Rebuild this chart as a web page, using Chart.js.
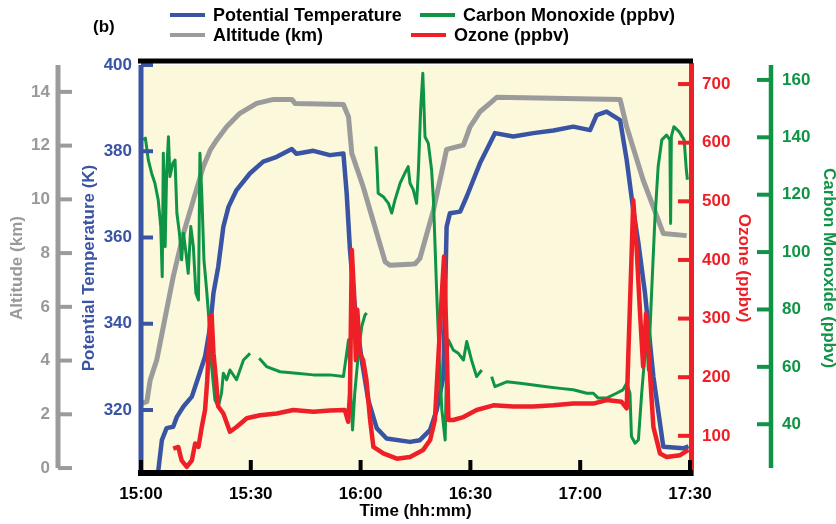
<!DOCTYPE html>
<html lang="en">
<head>
<meta charset="UTF-8">
<title>Flight profile (b)</title>
<script src="https://cdn.jsdelivr.net/npm/chart.js"></script>
<style>
  body { margin: 0; background: #fff; }
  #wrap { position: relative; width: 836px; height: 524px; font-family: "Liberation Sans", Arial, Helvetica, sans-serif; }
  #panel { position: absolute; left: 93px; top: 17px; font-size: 17px; font-weight: bold; line-height: 20px; }
  .key { position: absolute; height: 20px; line-height: 20px; font-size: 18px; font-weight: bold; color: #000; white-space: nowrap; }
  .key .swatch { position: absolute; left: 0; top: 8px; width: 35px; height: 4px; }
  .key .text { position: absolute; left: 43px; top: 0; }
</style>
</head>
<body>
<div id="wrap">
  <canvas id="chart" width="836" height="524"></canvas>
  <div id="panel">(b)</div>
  <div id="legend"></div>
</div>
<script>
// time axis, minutes after 15:00
const xTickValues = [0, 30, 60, 90, 120, 150];
const xTickLabels = ['15:00', '15:30', '16:00', '16:30', '17:00', '17:30'];
const altTicks = [0, 2, 4, 6, 8, 10, 12, 14];
const ptTicks = [320, 340, 360, 380, 400];
const o3Ticks = [100, 200, 300, 400, 500, 600, 700];
const coTicks = [40, 60, 80, 100, 120, 140, 160];

// Altitude (km)
const altTime = [
  0.2, 1.6, 2.5, 3.4, 4.3, 6.1, 8.8, 11.6, 14.3, 17.0,
  18.9, 20.7, 23.4, 27.0, 31.6, 36.2, 41.2, 42.1, 55.3, 56.7,
  57.6, 60.7, 63.9, 66.7, 68.0, 73.5, 74.9, 76.2, 79.9, 83.5,
  88.1, 89.9, 92.6, 95.8, 97.2, 130.9, 132.7, 137.2, 142.7, 149.1
];
const altKm = [
  2.41, 2.47, 3.27, 3.65, 4.02, 5.26, 7.12, 8.73, 9.97, 11.21,
  11.83, 12.21, 12.70, 13.20, 13.57, 13.72, 13.72, 13.57, 13.53, 13.07,
  11.71, 10.47, 8.98, 7.68, 7.55, 7.58, 7.60, 7.80, 9.60, 11.86,
  12.02, 12.70, 13.26, 13.63, 13.80, 13.72, 12.70, 10.72, 8.73, 8.65
];

// Potential Temperature (K)
const ptTime = [
  4.6, 5.7, 7.0, 8.8, 9.8, 11.6, 13.9, 15.7, 17.5, 18.9,
  19.8, 21.1, 22.5, 23.9, 26.1, 29.8, 33.4, 37.1, 41.2, 42.5,
  47.1, 51.6, 55.3, 56.2, 57.1, 58.5, 60.3, 62.1, 64.4, 67.1,
  73.5, 76.2, 79.0, 80.8, 82.6, 83.5, 84.4, 87.2, 89.0, 92.6,
  94.9, 96.7, 101.7, 107.2, 112.7, 118.1, 122.7, 124.5, 127.2, 130.9,
  132.7, 134.5, 135.9, 137.7, 140.0, 142.7, 148.2, 149.6
];
const ptK = [
  305.0, 313.0, 315.8, 316.1, 318.4, 320.8, 323.1, 327.7, 332.4, 339.3,
  347.1, 353.2, 362.5, 367.1, 371.0, 374.9, 377.6, 378.7, 380.5, 379.4,
  380.1, 379.1, 379.5, 370.2, 357.1, 343.2, 331.6, 322.3, 315.8, 313.4,
  312.6, 313.0, 315.4, 320.0, 327.7, 362.5, 365.6, 366.0, 369.5, 377.2,
  381.1, 384.2, 383.4, 384.2, 384.8, 385.7, 384.9, 388.4, 389.2, 387.2,
  378.0, 366.4, 358.7, 347.1, 327.7, 311.5, 311.1, 311.6
];

// Ozone (ppbv)
const o3Time = [
  8.8, 10.2, 11.1, 12.5, 13.9, 14.8, 15.7, 16.6, 17.5, 18.1,
  18.9, 19.3, 19.8, 20.5, 21.1, 22.5, 24.3, 26.1, 28.9, 32.5,
  37.1, 41.6, 47.1, 51.6, 55.7, 56.6, 57.1, 57.6, 58.2, 58.7,
  59.1, 59.8, 60.7, 61.6, 62.6, 63.5, 66.2, 69.9, 73.5, 77.1,
  79.0, 80.3, 81.2, 82.2, 82.8, 83.5, 84.0, 85.3, 88.1, 91.7,
  96.3, 101.7, 107.2, 112.7, 118.1, 123.6, 127.2, 131.3, 132.7, 133.1,
  134.0, 134.5, 135.4, 136.3, 137.2, 138.0, 138.6, 140.0, 141.8, 143.6,
  147.3, 149.6
];
const o3Ppbv = [
  78, 81, 58, 47, 58, 87, 81, 115, 144, 195,
  303, 306, 241, 195, 150, 138, 107, 115, 130, 135,
  138, 144, 141, 143, 144, 124, 172, 417, 343, 229,
  315, 241, 229, 195, 127, 81, 70, 61, 64, 76,
  93, 127, 229, 343, 406, 258, 127, 127, 132, 144,
  152, 150, 150, 152, 155, 155, 161, 158, 147, 229,
  400, 502, 423, 315, 218, 309, 252, 115, 70, 64,
  67, 76
];

// Carbon Monoxide (ppbv), null = no data
const coTime = [
  0.6, 1.2, 2.0, 2.9, 3.8, 4.7, 5.4, 5.8, 6.1, 6.6,
  7.0, 7.5, 7.9, 8.7, 9.3, 9.8, 10.5, 11.1, 11.6, 12.3,
  12.9, 13.6, 14.3, 15.0, 15.7, 16.1, 16.6, 17.2, 18.0, 18.7,
  19.3, 20.2, 21.1, 22.0, 22.5, 23.4, 24.3, 26.1, 28.0, 29.8,
  31.0, 32.3, 34.3, 38.0, 42.5, 47.1, 51.6, 55.3, 56.7, 57.3,
  57.8, 58.4, 59.4, 60.3, 61.2, 61.7, 63.0, 64.2, 64.5, 64.8,
  66.2, 67.6, 68.5, 69.4, 70.8, 72.1, 73.0, 73.5, 74.4, 75.3,
  75.8, 76.4, 77.0, 77.6, 78.5, 79.4, 79.9, 80.8, 81.5, 82.2,
  83.1, 83.5, 84.0, 85.3, 86.7, 88.1, 89.0, 90.3, 91.7, 93.1,
  94.5, 95.8, 96.7, 99.9, 103.6, 107.2, 110.8, 114.5, 118.1, 121.8,
  123.6, 124.9, 127.2, 129.9, 131.7, 132.7, 133.6, 134.0, 135.0, 135.9,
  136.8, 137.7, 138.2, 138.6, 139.5, 140.4, 141.3, 142.3, 143.6, 144.5,
  144.7, 144.9, 145.6, 147.0, 148.4, 149.0, 149.3
];
const coPpbv = [
  139.1, 139.7, 132.1, 127.5, 124.0, 118.2, 108.9, 91.4, 134.4, 101.9,
  127.5, 140.2, 126.3, 131.0, 132.1, 113.6, 106.6, 97.3, 106.6, 99.6,
  92.6, 108.9, 101.9, 85.7, 83.3, 134.4, 120.5, 97.3, 85.7, 74.0,
  60.1, 48.5, 46.1, 50.8, 57.8, 55.5, 58.9, 55.5, 62.4, 64.7,
  null, 63.0, 60.1, 58.3, 57.8, 57.2, 57.2, 56.6, 69.4, 50.8,
  38.0, 50.8, 64.7, 74.0, 78.1, 78.7, null, 136.8, 129.8, 120.5,
  119.3, 117.0, 113.6, 118.2, 124.0, 127.5, 129.8, 124.0, 121.7, 117.0,
  128.6, 149.5, 162.3, 140.2, 137.9, 128.6, 118.2, 85.7, 62.4, 45.0,
  34.5, 62.4, 69.4, 65.9, 64.7, 62.4, 68.8, 62.4, 56.6, 58.9,
  null, 56.6, 53.1, 54.8, 54.3, 53.7, 53.1, 52.5, 52.0, 50.8,
  50.8, 49.1, 49.1, 50.8, 52.0, 54.3, 50.8, 35.7, 33.4, 34.5,
  50.8, 64.7, 71.7, 58.9, 85.7, 111.2, 129.8, 139.1, 140.8, 139.1,
  110.0, 140.2, 143.7, 142.0, 139.1, 128.6, 125.2
];

const BLUE = '#3a54a4';
const GRAY = '#9b9b9b';
const GREEN = '#0f9446';
const RED = '#ee1f26';
const plotBg = '#fbf8dc';
const FONT = '"Liberation Sans", Arial, Helvetica, sans-serif';

Chart.defaults.font.family = FONT;

const pts = (ts, vs) => ts.map((t, i) => ({ x: t, y: vs[i] }));

// legend slots (pixel placement of the custom legend)
const legendSlots = {
  pt: { left: 170, top: 5 },
  co: { left: 420, top: 5 },
  alt: { left: 170, top: 25 },
  o3: { left: 411, top: 25 }
};

function setTicks(values) {
  return scale => { scale.ticks = values.map(v => ({ value: v })); };
}

function yAxis(opts) {
  return {
    type: 'linear',
    position: opts.position,
    weight: opts.weight,
    min: opts.min,
    max: opts.max,
    afterBuildTicks: setTicks(opts.ticks),
    afterFit: scale => { scale.width = opts.width; },
    grid: { display: false, drawTicks: false },
    border: { display: false },
    ticks: {
      color: opts.color,
      padding: opts.tickPad,
      font: { size: 17, weight: 'bold' }
    },
    title: {
      display: true,
      text: opts.title,
      color: opts.color,
      padding: { top: opts.titlePad, bottom: 0 },
      font: { size: 17, weight: 'bold' }
    }
  };
}

// axis lines, inward ticks and the black frame
const frame = {
  id: 'frame',
  beforeDatasetsDraw(chart) {
    const { ctx, chartArea: a } = chart;
    ctx.save();
    ctx.fillStyle = plotBg;
    ctx.fillRect(a.left, a.top, a.right - a.left, a.bottom - a.top);
    ctx.restore();
  },
  afterDatasetsDraw(chart) {
    const { ctx, chartArea: a, scales } = chart;
    const seg = (x1, y1, x2, y2, color, w) => {
      ctx.beginPath();
      ctx.strokeStyle = color;
      ctx.lineWidth = w;
      ctx.moveTo(x1, y1);
      ctx.lineTo(x2, y2);
      ctx.stroke();
    };
    ctx.save();
    ctx.lineCap = 'butt';

    const alt = scales.yAlt;
    const ax = alt.right - 14;
    seg(ax, alt.getPixelForValue(15), ax, alt.getPixelForValue(0), GRAY, 5);
    alt.ticks.forEach(t => {
      const y = alt.getPixelForValue(t.value);
      seg(ax, y, alt.right, y, GRAY, 4);
    });

    const pt = scales.yPT;
    seg(a.left, a.top, a.left, a.bottom + 5, BLUE, 5);
    pt.ticks.forEach(t => {
      const y = pt.getPixelForValue(t.value);
      seg(a.left, y, a.left + 12, y, BLUE, 4);
    });

    const o3 = scales.yO3;
    seg(a.right + 1.5, a.top - 2, a.right + 1.5, a.bottom + 5, RED, 5);
    o3.ticks.forEach(t => {
      const y = o3.getPixelForValue(t.value);
      seg(a.right - 12, y, a.right + 1.5, y, RED, 4);
    });

    const co = scales.yCO;
    const cx = co.left + 14;
    seg(cx, a.top, cx, a.bottom - 3, GREEN, 4.5);
    co.ticks.forEach(t => {
      const y = co.getPixelForValue(t.value);
      seg(co.left, y, cx, y, GREEN, 4);
    });

    // black frame top and bottom, time ticks pointing up
    seg(a.left - 3, a.top - 4, a.right + 3, a.top - 4, '#000', 5);
    seg(a.left - 3, a.bottom + 2, a.right + 3, a.bottom + 2, '#000', 6);
    const xs = scales.x;
    xs.ticks.forEach(t => {
      const x = xs.getPixelForValue(t.value);
      seg(x, a.bottom + 2, x, a.bottom - 11, '#000', 4);
    });
    ctx.restore();
  }
};

const datasets = [
  { key: 'o3', label: 'Ozone (ppbv)', data: pts(o3Time, o3Ppbv), borderColor: RED, borderWidth: 4.5, yAxisID: 'yO3' },
  { key: 'co', label: 'Carbon Monoxide (ppbv)', data: pts(coTime, coPpbv), borderColor: GREEN, borderWidth: 3, yAxisID: 'yCO' },
  { key: 'pt', label: 'Potential Temperature', data: pts(ptTime, ptK), borderColor: BLUE, borderWidth: 4.5, yAxisID: 'yPT' },
  { key: 'alt', label: 'Altitude (km)', data: pts(altTime, altKm), borderColor: GRAY, borderWidth: 5, yAxisID: 'yAlt' }
];
datasets.forEach(d => {
  d.pointRadius = 0;
  d.tension = 0;
  d.spanGaps = false;
  d.fill = false;
  d.borderJoinStyle = 'round';
});

new Chart(document.getElementById('chart'), {
  type: 'line',
  data: { datasets: datasets },
  plugins: [frame],
  options: {
    responsive: false,
    animation: false,
    devicePixelRatio: 1,
    layout: { padding: { top: 65, left: 0, right: 0, bottom: 0 } },
    plugins: { legend: { display: false }, tooltip: { enabled: false } },
    scales: {
      x: {
        type: 'linear',
        min: 0,
        max: 150,
        afterBuildTicks: setTicks(xTickValues),
        afterFit: scale => { scale.height = 53; },
        grid: { display: false, drawTicks: false },
        border: { display: false },
        ticks: {
          color: '#000',
          padding: 13,
          maxRotation: 0,
          font: { size: 17, weight: 'bold' },
          callback: (v, i) => xTickLabels[i]
        },
        title: {
          display: true,
          text: 'Time (hh:mm)',
          color: '#000',
          padding: { top: 0, bottom: 2 },
          font: { size: 17, weight: 'bold' }
        }
      },
      yAlt: yAxis({ position: 'left', weight: 2, min: -0.11, max: 15, ticks: altTicks, color: '#999999',
        title: 'Altitude (km)', width: 72, tickPad: 22, titlePad: 7 }),
      yPT: yAxis({ position: 'left', weight: 1, min: 305.85, max: 400, ticks: ptTicks, color: BLUE,
        title: 'Potential Temperature (K)', width: 69, tickPad: 9, titlePad: 7 }),
      yO3: yAxis({ position: 'right', weight: 1, min: 40, max: 732.5, ticks: o3Ticks, color: RED,
        title: 'Ozone (ppbv)', width: 67, tickPad: 12, titlePad: 3 }),
      yCO: yAxis({ position: 'right', weight: 2, min: 23.7, max: 165.2, ticks: coTicks, color: GREEN,
        title: 'Carbon Monoxide (ppbv)', width: 79, tickPad: 25, titlePad: -3 })
    }
  }
});

// legend drawn as html, 2 x 2 like the original
const legend = document.getElementById('legend');
['pt', 'co', 'alt', 'o3'].forEach(k => {
  const d = datasets.find(ds => ds.key === k);
  const slot = legendSlots[k];
  const el = document.createElement('div');
  el.className = 'key';
  el.style.left = slot.left + 'px';
  el.style.top = slot.top + 'px';
  el.innerHTML = '<span class="swatch" style="background:' + d.borderColor + '"></span><span class="text">' + d.label + '</span>';
  legend.appendChild(el);
});
</script>
</body>
</html>
